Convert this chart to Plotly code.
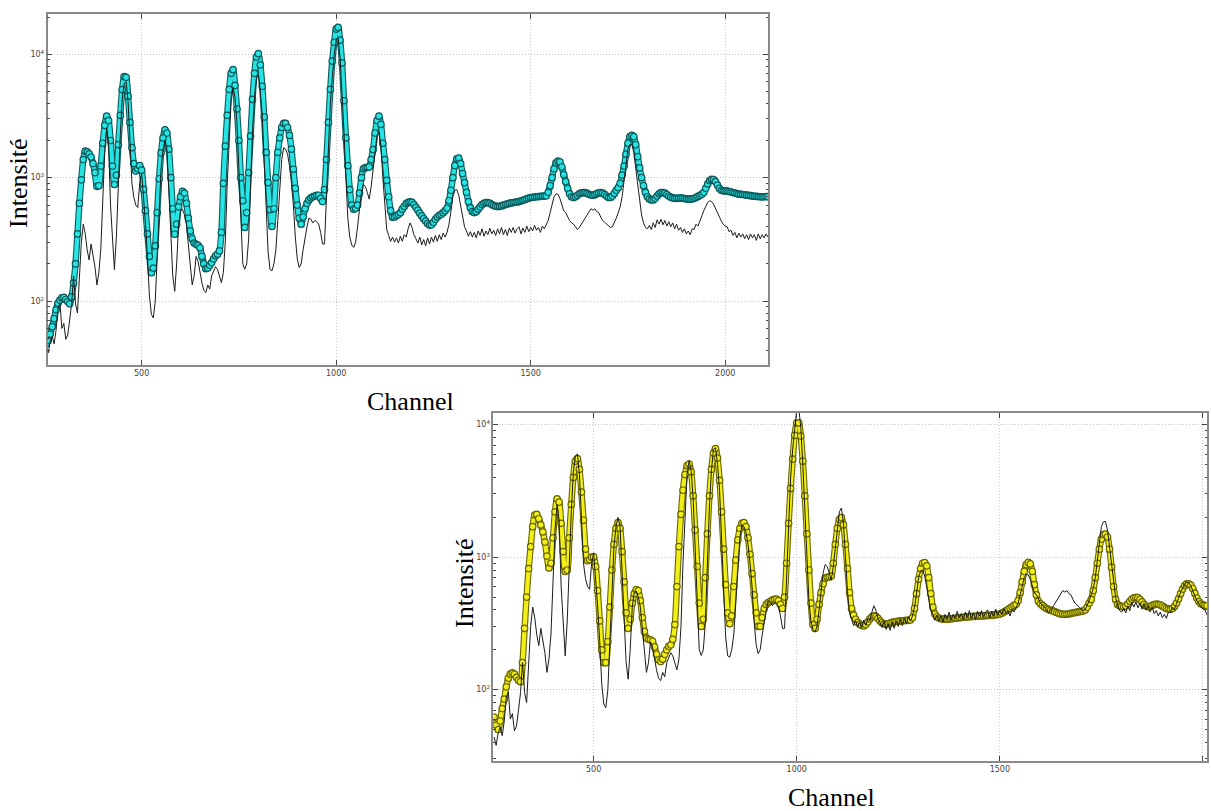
import plotly.graph_objects as go

# ---------------- data ----------------
CHANNELS = list(range(255, 2111, 5))

SPECTRUM = [
    44, 38, 47, 52, 45, 58, 88, 96, 60, 66,                 # 255-300
    49, 53, 70, 95, 160, 95, 80, 160, 300, 420,             # 305-350
    350, 260, 215, 290, 240, 190, 135, 170, 263, 700,       # 355-400
    1600, 2500, 1900, 600, 300, 180, 330, 900, 2200, 4300,  # 405-450
    5800, 6000, 4200, 2000, 900, 690, 600, 572, 900, 1080,  # 455-500
    700, 420, 230, 110, 78, 73, 100, 250, 667, 1200,        # 505-550
    1700, 2000, 1700, 745, 300, 160, 120, 200, 420, 540,    # 555-600
    555, 500, 420, 280, 200, 135, 160, 230, 210, 170,       # 605-650
    140, 122, 117, 135, 125, 160, 175, 190, 180, 160,       # 655-700
    141, 170, 300, 900, 2300, 4200, 5350, 4500, 2800, 1200, # 705-750
    400, 200, 181, 200, 320, 900, 2400, 4500, 6500, 6700,   # 755-800
    5000, 3200, 1500, 600, 250, 180, 176, 200, 260, 450,    # 805-850
    900, 1400, 1750, 1700, 1550, 1250, 900, 600, 330, 220,  # 855-900
    187, 200, 260, 330, 400, 470, 460, 430, 450, 440,       # 905-950
    420, 360, 290, 290, 700, 1800, 4000, 6500, 10000, 13000,  # 955-1000
    13500, 9500, 5000, 2400, 1000, 470, 330, 285, 272, 300,   # 1005-1050
    400, 560, 760, 880, 850, 760, 670, 850, 1200, 1750,     # 1055-1100
    2200, 2350, 1800, 1000, 550, 380, 340, 305, 330, 300,   # 1105-1150
    325, 295, 335, 305, 345, 330, 385, 430, 395, 345,       # 1155-1200
    320, 295, 330, 285, 315, 280, 325, 290, 330, 300,       # 1205-1250
    340, 305, 345, 315, 355, 330, 360, 420, 530, 700,       # 1255-1300
    790, 800, 720, 580, 470, 400, 370, 335, 365, 330,       # 1305-1350
    360, 325, 370, 340, 385, 335, 370, 345, 390, 350,       # 1355-1400
    375, 340, 385, 350, 395, 345, 380, 340, 390, 360,       # 1405-1450
    395, 355, 385, 400, 350, 390, 360, 405, 365, 395,       # 1455-1500
    370, 410, 375, 395, 360, 405, 385, 420, 450, 520,       # 1505-1550
    620, 700, 740, 735, 680, 600, 540, 520, 480, 450,       # 1555-1600
    430, 420, 400, 380, 395, 420, 440, 470, 500, 540,       # 1605-1650
    560, 545, 560, 530, 520, 480, 450, 435, 420, 405,       # 1655-1700
    395, 400, 430, 470, 520, 580, 700, 950, 1350, 1700,     # 1705-1750
    1850, 1860, 1600, 1200, 900, 650, 500, 430, 395, 385,   # 1755-1800
    410, 380, 430, 395, 455, 420, 460, 415, 450, 405,       # 1805-1850
    440, 400, 430, 385, 420, 375, 395, 360, 385, 350,       # 1855-1900
    370, 345, 385, 380, 420, 405, 455, 490, 540, 590,       # 1905-1950
    630, 650, 640, 610, 560, 510, 470, 445, 420, 405,       # 1955-2000
    400, 365, 375, 340, 360, 325, 355, 330, 350, 320,       # 2005-2050
    345, 315, 350, 325, 345, 310, 350, 320, 345, 325,       # 2055-2100
    350, 330,                                               # 2105-2110
]

FIT_TOP = [
    45, 48, 54, 62, 72, 85, 96, 102, 106, 107,              # 255-300
    103, 99, 95, 108, 140, 200, 350, 620, 960, 1400,        # 305-350
    1640, 1620, 1560, 1470, 1300, 1100, 850, 860, 1240, 1900,   # 355-400
    2650, 3150, 2900, 2000, 1240, 880, 1050, 1850, 3200, 5170,  # 405-450
    6600, 6500, 4570, 2800, 1750, 1300, 1130, 1180, 1250, 1150, # 455-500
    804, 540, 350, 230, 170, 185, 280, 520, 980, 1590,      # 505-550
    2100, 2440, 2300, 1700, 1000, 560, 348, 420, 580, 700,  # 555-600
    775, 750, 620, 470, 370, 320, 295, 288, 283, 270,       # 605-650
    230, 200, 183, 185, 195, 205, 220, 233, 240, 255,       # 655-700
    360, 900, 1800, 3200, 5200, 7000, 7500, 5600, 3600, 2000,   # 705-750
    1000, 650, 395, 520, 1100, 2170, 4300, 7000, 9500, 10100,   # 755-800
    8200, 5500, 3100, 1600, 910, 550, 402, 560, 1000, 1600,     # 805-850
    2100, 2550, 2750, 2750, 2550, 2200, 1700, 1170, 820, 600,   # 855-900
    470, 420, 480, 560, 620, 660, 685, 700, 710, 718,       # 905-950
    720, 680, 640, 800, 1400, 2800, 5200, 8800, 12500, 16000,   # 955-1000
    16500, 13000, 8500, 4200, 2100, 1250, 800, 600, 555, 565,   # 1005-1050
    600, 750, 1000, 1180, 1204, 1210, 1220, 1400, 1690, 2300,   # 1055-1100
    2900, 3150, 2700, 1900, 1400, 950, 700, 540, 478, 480,  # 1105-1150
    492, 505, 520, 555, 585, 615, 630, 636, 630, 605,       # 1155-1200
    575, 545, 515, 490, 465, 445, 425, 413, 415, 435,       # 1205-1250
    460, 480, 495, 505, 520, 540, 565, 650, 790, 1000,      # 1255-1300
    1250, 1420, 1440, 1300, 1080, 910, 760, 640, 570, 530,  # 1305-1350
    521, 530, 555, 580, 605, 620, 628, 628, 620, 605,       # 1355-1400
    595, 587, 583, 585, 590, 598, 605, 612, 618, 624,       # 1405-1450
    628, 632, 636, 640, 648, 656, 665, 674, 682, 689,       # 1455-1500
    693, 697, 700, 703, 705, 707, 709, 712, 760, 860,       # 1505-1550
    1000, 1180, 1320, 1360, 1340, 1220, 1060, 930, 820, 740,    # 1555-1600
    700, 690, 700, 720, 740, 752, 757, 755, 745, 732,       # 1605-1650
    722, 720, 728, 742, 752, 757, 750, 732, 710, 692,       # 1655-1700
    692, 710, 745, 790, 830, 900, 1050, 1240, 1550, 1900,   # 1705-1750
    2150, 2200, 2150, 1850, 1480, 1200, 1000, 860, 760, 700,    # 1755-1800
    672, 660, 660, 680, 710, 740, 755, 757, 750, 730,       # 1805-1850
    710, 695, 685, 680, 680, 682, 684, 682, 678, 673,       # 1855-1900
    670, 670, 672, 680, 690, 705, 720, 733, 760, 820,       # 1905-1950
    890, 945, 968, 965, 930, 870, 820, 790, 782, 780,       # 1955-2000
    778, 772, 765, 758, 750, 743, 736, 733, 730, 726,       # 2005-2050
    722, 718, 714, 710, 707, 704, 702, 700, 699, 700,       # 2055-2100
    702, 703,                                               # 2105-2110
]

FIT_BOTTOM = [
    62, 54, 50, 58, 72, 85, 105, 122, 131, 134,             # 255-300
    131, 124, 118, 115, 160, 290, 500, 820, 1200, 1700,     # 305-350
    2080, 2100, 1950, 1750, 1550, 1300, 1020, 830, 900, 1400,   # 355-400
    2200, 2750, 2600, 1800, 1100, 780, 800, 1400, 2500, 4000,   # 405-450
    5300, 5550, 4600, 3100, 1900, 1150, 940, 960, 1000, 1005,   # 455-500
    850, 560, 330, 200, 160, 160, 230, 420, 800, 1250,      # 505-550
    1650, 1820, 1650, 1100, 650, 380, 290, 340, 450, 530,   # 555-600
    570, 560, 470, 350, 275, 245, 240, 238, 232, 210,       # 605-650
    185, 168, 163, 170, 185, 200, 212, 218, 240, 310,       # 655-700
    600, 1200, 2100, 3200, 4200, 4900, 5050, 4400, 2900, 1600,  # 705-750
    850, 450, 300, 340, 700, 1500, 2900, 4600, 6100, 6600,  # 755-800
    5600, 3800, 2200, 1150, 620, 380, 315, 360, 600, 950,   # 805-850
    1350, 1650, 1800, 1820, 1700, 1400, 1050, 750, 520, 380,    # 855-900
    300, 300, 350, 410, 440, 455, 465, 475, 480, 482,       # 905-950
    470, 440, 410, 500, 900, 1800, 3300, 5500, 8300, 10300, # 955-1000
    10300, 8200, 5300, 2900, 1500, 800, 450, 310, 290, 340, # 1005-1050
    440, 540, 630, 695, 705, 710, 720, 900, 1250, 1650,     # 1055-1100
    1930, 1990, 1750, 1250, 820, 540, 410, 365, 340, 322,   # 1105-1150
    312, 305, 303, 310, 325, 342, 355, 360, 358, 345,       # 1155-1200
    330, 320, 314, 312, 314, 318, 322, 325, 327, 328,       # 1205-1250
    330, 331, 332, 333, 334, 336, 350, 410, 530, 680,       # 1255-1300
    820, 900, 910, 860, 700, 530, 420, 372, 355, 347,       # 1305-1350
    343, 341, 340, 340, 341, 343, 344, 346, 347, 349,       # 1355-1400
    350, 352, 353, 354, 355, 356, 357, 358, 359, 360,       # 1405-1450
    360, 361, 362, 363, 364, 365, 366, 368, 369, 372,       # 1455-1500
    378, 385, 393, 402, 412, 422, 432, 441, 470, 540,       # 1505-1550
    650, 780, 880, 912, 890, 780, 620, 520, 465, 445,       # 1555-1600
    432, 420, 410, 403, 397, 394, 388, 382, 377, 373,       # 1605-1650
    371, 370, 371, 373, 376, 379, 382, 385, 387, 389,       # 1655-1700
    392, 400, 420, 450, 480, 560, 700, 900, 1150, 1370,     # 1705-1750
    1480, 1495, 1420, 1150, 840, 600, 480, 440, 430, 425,   # 1755-1800
    422, 428, 445, 465, 482, 493, 497, 495, 480, 460,       # 1805-1850
    440, 428, 422, 424, 432, 439, 442, 441, 436, 428,       # 1855-1900
    418, 410, 406, 405, 410, 425, 450, 485, 530, 575,       # 1905-1950
    610, 628, 628, 615, 580, 535, 492, 462, 445, 437,       # 1955-2000
    432, 430,                                               # 2005-2010
]

X_TICKS = [500, 1000, 1500, 2000]
X_TICK_LABELS = ["500", "1000", "1500", "2000"]
Y_TICKS = [100, 1000, 10000]
Y_TICK_LABELS = ["10<sup>2</sup>", "10<sup>3</sup>", "10<sup>4</sup>"]
Y_MINOR = [20, 30, 40, 50, 60, 70, 80, 90, 200, 300, 400, 500, 600, 700, 800, 900,
           2000, 3000, 4000, 5000, 6000, 7000, 8000, 9000, 20000]
X_LABEL = "Channel"
Y_LABEL = "Intensité"

# ---------------- styles ----------------
W, H = 1211, 811
CYAN_FILL, CYAN_EDGE = "#26e4e4", "#0c5a5b"
YEL_FILL, YEL_EDGE = "#f2ee18", "#6a6600"
SPEC_COLOR = "#1c1c1c"

fig = go.Figure()


def add_fit(x, y, xa, ya, fill, edge):
    fig.add_trace(go.Scatter(x=x, y=y, xaxis=xa, yaxis=ya, mode="lines",
                             line=dict(color=edge, width=6.5, shape="spline", smoothing=0.8),
                             hoverinfo="skip", showlegend=False))
    fig.add_trace(go.Scatter(x=x, y=y, xaxis=xa, yaxis=ya, mode="lines",
                             line=dict(color=fill, width=4.3, shape="spline", smoothing=0.8),
                             hoverinfo="skip", showlegend=False))
    fig.add_trace(go.Scatter(x=x, y=y, xaxis=xa, yaxis=ya, mode="markers",
                             marker=dict(size=6.5, color=fill, line=dict(color=edge, width=1.2)),
                             showlegend=False))


def add_spec(xa, ya):
    fig.add_trace(go.Scatter(x=CHANNELS, y=SPECTRUM, xaxis=xa, yaxis=ya, mode="lines",
                             line=dict(color=SPEC_COLOR, width=1), showlegend=False))


add_fit(CHANNELS, FIT_TOP, "x", "y", CYAN_FILL, CYAN_EDGE)
add_spec("x", "y")
add_fit(CHANNELS[:len(FIT_BOTTOM)], FIT_BOTTOM, "x2", "y2", YEL_FILL, YEL_EDGE)
add_spec("x2", "y2")

axis_common = dict(
    showline=True, linecolor="#8a8a8a", linewidth=1.5, mirror="ticks",
    ticks="inside", ticklen=5, tickcolor="#444444", tickwidth=1,
    showgrid=True, gridcolor="#c4c4c4", griddash="1px,2px", gridwidth=1,
    zeroline=False, tickfont=dict(family="DejaVu Sans", size=8, color="#444444"),
)

xaxis_common = dict(axis_common, tickmode="array", tickvals=X_TICKS, ticktext=X_TICK_LABELS)
yaxis_common = dict(axis_common, type="log", tickmode="array", tickvals=Y_TICKS,
                    ticktext=Y_TICK_LABELS,
                    minor=dict(tickmode="array", tickvals=Y_MINOR, ticks="inside",
                               ticklen=2.5, tickcolor="#444444", showgrid=False))

fig.update_layout(
    width=W, height=H, autosize=False,
    margin=dict(l=0, r=0, t=0, b=0),
    paper_bgcolor="white", plot_bgcolor="white",
    showlegend=False,
    xaxis=dict(xaxis_common, domain=[47.5 / W, 768 / W], range=[258, 2110], anchor="y"),
    yaxis=dict(yaxis_common, domain=[1 - 365 / H, 1 - 14 / H], range=[1.482, 4.326], anchor="x"),
    xaxis2=dict(xaxis_common, domain=[493.3 / W, 1207 / W], range=[253, 2010], anchor="y2"),
    yaxis2=dict(yaxis_common, domain=[1 - 760.7 / H, 1 - 413 / H], range=[1.464, 4.088], anchor="x2"),
)

label_font = dict(family="Liberation Serif, Times New Roman, serif", size=26, color="black")
annotations = [
    dict(text=X_LABEL, x=410 / W, y=1 - 401 / H),
    dict(text=Y_LABEL, x=19 / W, y=1 - 183 / H, textangle=-90),
    dict(text=X_LABEL, x=831 / W, y=1 - 797 / H),
    dict(text=Y_LABEL, x=464 / W, y=1 - 583 / H, textangle=-90),
]
for a in annotations:
    fig.add_annotation(xref="paper", yref="paper", showarrow=False, xanchor="center",
                       yanchor="middle", font=label_font, **a)

fig.write_html(
    "out.html",
    config={"displayModeBar": False},
    post_script="document.body.style.margin='0px';document.body.style.overflow='hidden';",
)
